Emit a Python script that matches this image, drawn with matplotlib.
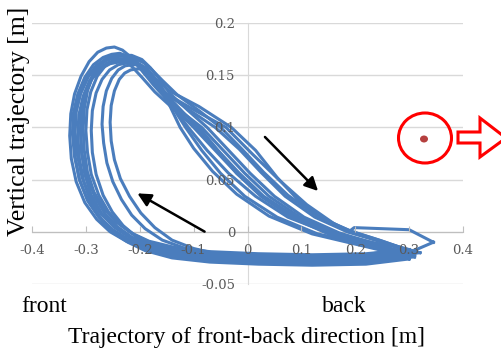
import numpy as np
import matplotlib.pyplot as plt
from matplotlib.patches import Ellipse, Polygon

plt.rcParams['axes.unicode_minus'] = False

# loops of the foot trajectory (x = front-back, y = vertical) [m]
loop_a_x = [0.31, 0.22, 0.12, 0.02, -0.07, -0.14, -0.19, -0.225, -0.255, -0.280, -0.302, -0.318, -0.327, -0.330, -0.328, -0.321, -0.309, -0.294, -0.278, -0.262, -0.247, -0.232, -0.218, -0.200, -0.175, -0.140, -0.100, -0.060, -0.020, 0.030, 0.090, 0.160, 0.240, 0.310]
loop_a_y = [-0.023, -0.028, -0.029, -0.028, -0.026, -0.022, -0.016, -0.009, 0.000, 0.012, 0.028, 0.048, 0.070, 0.092, 0.113, 0.132, 0.149, 0.163, 0.172, 0.176, 0.177, 0.174, 0.168, 0.157, 0.141, 0.121, 0.100, 0.078, 0.056, 0.033, 0.013, -0.001, -0.012, -0.023]
loop_b_x = [0.32, 0.22, 0.12, 0.02, -0.07, -0.14, -0.19, -0.222, -0.250, -0.275, -0.296, -0.312, -0.321, -0.325, -0.323, -0.315, -0.302, -0.286, -0.268, -0.252, -0.237, -0.222, -0.207, -0.188, -0.160, -0.112, -0.060, -0.015, 0.025, 0.070, 0.125, 0.185, 0.250, 0.320]
loop_b_y = [-0.020, -0.026, -0.027, -0.026, -0.024, -0.020, -0.014, -0.007, 0.002, 0.014, 0.030, 0.050, 0.072, 0.094, 0.114, 0.132, 0.148, 0.160, 0.167, 0.170, 0.171, 0.168, 0.161, 0.150, 0.136, 0.118, 0.100, 0.079, 0.057, 0.034, 0.014, 0.000, -0.010, -0.020]
loop_c_x = [0.30, 0.22, 0.12, 0.02, -0.07, -0.135, -0.185, -0.218, -0.246, -0.270, -0.291, -0.307, -0.316, -0.320, -0.318, -0.310, -0.297, -0.281, -0.263, -0.245, -0.228, -0.212, -0.196, -0.175, -0.145, -0.090, -0.030, 0.015, 0.055, 0.095, 0.140, 0.195, 0.250, 0.300]
loop_c_y = [-0.018, -0.024, -0.025, -0.024, -0.022, -0.018, -0.012, -0.005, 0.004, 0.016, 0.032, 0.052, 0.074, 0.095, 0.115, 0.133, 0.148, 0.159, 0.165, 0.168, 0.168, 0.165, 0.158, 0.148, 0.135, 0.120, 0.100, 0.078, 0.052, 0.030, 0.012, 0.000, -0.009, -0.018]
loop_d_x = [0.30, 0.22, 0.12, 0.02, -0.07, -0.14, -0.19, -0.222, -0.248, -0.270, -0.290, -0.304, -0.312, -0.315, -0.313, -0.305, -0.293, -0.277, -0.259, -0.240, -0.222, -0.205, -0.190, -0.172, -0.150, -0.120, -0.085, -0.045, -0.005, 0.040, 0.100, 0.170, 0.240, 0.300]
loop_d_y = [-0.026, -0.031, -0.032, -0.031, -0.029, -0.025, -0.018, -0.010, -0.001, 0.011, 0.028, 0.048, 0.070, 0.092, 0.112, 0.130, 0.145, 0.156, 0.162, 0.165, 0.165, 0.161, 0.153, 0.142, 0.128, 0.114, 0.100, 0.078, 0.056, 0.034, 0.013, -0.003, -0.014, -0.026]
loop_e_x = [0.31, 0.22, 0.12, 0.02, -0.07, -0.135, -0.182, -0.215, -0.242, -0.264, -0.283, -0.298, -0.307, -0.310, -0.308, -0.301, -0.289, -0.273, -0.255, -0.235, -0.215, -0.198, -0.183, -0.166, -0.148, -0.130, -0.110, -0.075, -0.035, 0.015, 0.075, 0.150, 0.230, 0.310]
loop_e_y = [-0.022, -0.027, -0.028, -0.027, -0.025, -0.020, -0.013, -0.005, 0.005, 0.017, 0.033, 0.053, 0.074, 0.095, 0.115, 0.132, 0.146, 0.156, 0.161, 0.163, 0.163, 0.159, 0.151, 0.140, 0.127, 0.114, 0.100, 0.078, 0.056, 0.034, 0.014, -0.001, -0.012, -0.022]
loop_f_x = [0.29, 0.22, 0.12, 0.02, -0.07, -0.13, -0.177, -0.210, -0.236, -0.258, -0.276, -0.290, -0.297, -0.300, -0.298, -0.291, -0.279, -0.264, -0.247, -0.228, -0.210, -0.193, -0.177, -0.158, -0.130, -0.090, -0.050, -0.010, 0.030, 0.075, 0.130, 0.190, 0.245, 0.290]
loop_f_y = [-0.016, -0.022, -0.024, -0.023, -0.021, -0.017, -0.011, -0.003, 0.007, 0.019, 0.035, 0.055, 0.076, 0.097, 0.117, 0.134, 0.149, 0.159, 0.164, 0.166, 0.166, 0.162, 0.155, 0.145, 0.131, 0.116, 0.100, 0.079, 0.057, 0.035, 0.015, 0.001, -0.008, -0.016]
loop_g_x = [0.30, 0.22, 0.12, 0.02, -0.07, -0.13, -0.175, -0.206, -0.231, -0.251, -0.268, -0.281, -0.288, -0.290, -0.288, -0.281, -0.270, -0.256, -0.240, -0.222, -0.205, -0.189, -0.175, -0.162, -0.150, -0.138, -0.125, -0.100, -0.065, -0.020, 0.040, 0.120, 0.210, 0.300]
loop_g_y = [-0.024, -0.029, -0.030, -0.029, -0.027, -0.022, -0.014, -0.005, 0.006, 0.019, 0.035, 0.055, 0.076, 0.097, 0.116, 0.133, 0.146, 0.155, 0.160, 0.162, 0.162, 0.157, 0.149, 0.139, 0.127, 0.114, 0.100, 0.080, 0.058, 0.036, 0.015, -0.002, -0.013, -0.024]
loop_h_x = [0.30, 0.22, 0.12, 0.02, -0.06, -0.115, -0.158, -0.190, -0.215, -0.234, -0.250, -0.261, -0.267, -0.270, -0.268, -0.262, -0.252, -0.240, -0.227, -0.213, -0.200, -0.186, -0.173, -0.160, -0.146, -0.131, -0.115, -0.085, -0.050, -0.005, 0.055, 0.130, 0.210, 0.300]
loop_h_y = [-0.020, -0.025, -0.026, -0.025, -0.022, -0.016, -0.008, 0.003, 0.016, 0.031, 0.048, 0.066, 0.085, 0.103, 0.120, 0.135, 0.147, 0.155, 0.159, 0.160, 0.160, 0.156, 0.148, 0.138, 0.126, 0.113, 0.100, 0.078, 0.056, 0.034, 0.014, -0.002, -0.011, -0.020]
loop_i_x = [0.31, 0.22, 0.12, 0.02, -0.05, -0.10, -0.140, -0.172, -0.198, -0.219, -0.236, -0.247, -0.253, -0.255, -0.253, -0.247, -0.238, -0.228, -0.217, -0.206, -0.195, -0.183, -0.170, -0.155, -0.137, -0.115, -0.090, -0.055, -0.020, 0.025, 0.085, 0.150, 0.230, 0.310]
loop_i_y = [-0.022, -0.027, -0.027, -0.026, -0.022, -0.016, -0.008, 0.004, 0.018, 0.034, 0.051, 0.069, 0.087, 0.105, 0.121, 0.135, 0.146, 0.152, 0.155, 0.156, 0.156, 0.152, 0.145, 0.135, 0.124, 0.112, 0.100, 0.078, 0.056, 0.034, 0.013, -0.002, -0.013, -0.022]
loop_j_x = [0.345, 0.30, 0.22, 0.12, 0.02, -0.07, -0.138, -0.186, -0.220, -0.248, -0.271, -0.290, -0.302, -0.308, -0.310, -0.307, -0.299, -0.287, -0.272, -0.256, -0.240, -0.226, -0.212, -0.197, -0.178, -0.150, -0.100, -0.040, 0.010, 0.060, 0.110, 0.160, 0.188, 0.198, 0.300, 0.345]
loop_j_y = [-0.010, -0.020, -0.025, -0.027, -0.026, -0.024, -0.020, -0.013, -0.005, 0.005, 0.018, 0.035, 0.055, 0.076, 0.097, 0.117, 0.135, 0.150, 0.161, 0.167, 0.169, 0.169, 0.165, 0.157, 0.146, 0.132, 0.117, 0.100, 0.074, 0.049, 0.026, 0.008, 0.000, 0.004, 0.002, -0.010]
loop_k_x = [0.31, 0.22, 0.12, 0.02, -0.07, -0.14, -0.19, -0.224, -0.252, -0.276, -0.297, -0.312, -0.320, -0.322, -0.319, -0.310, -0.296, -0.280, -0.262, -0.240, -0.215, -0.196, -0.180, -0.163, -0.143, -0.112, -0.075, -0.035, 0.005, 0.050, 0.105, 0.170, 0.240, 0.310]
loop_k_y = [-0.024, -0.029, -0.030, -0.029, -0.027, -0.023, -0.016, -0.008, 0.002, 0.014, 0.030, 0.050, 0.072, 0.094, 0.114, 0.132, 0.148, 0.159, 0.166, 0.169, 0.169, 0.165, 0.157, 0.146, 0.132, 0.117, 0.100, 0.078, 0.056, 0.034, 0.014, -0.001, -0.012, -0.024]
loop_m_x = [0.30, 0.22, 0.12, 0.02, -0.07, -0.135, -0.183, -0.216, -0.243, -0.266, -0.285, -0.297, -0.303, -0.305, -0.303, -0.297, -0.288, -0.276, -0.262, -0.250, -0.240, -0.228, -0.214, -0.196, -0.172, -0.138, -0.095, -0.055, -0.015, 0.030, 0.090, 0.160, 0.230, 0.300]
loop_m_y = [-0.017, -0.021, -0.022, -0.021, -0.019, -0.015, -0.009, -0.001, 0.009, 0.022, 0.038, 0.057, 0.078, 0.099, 0.118, 0.135, 0.149, 0.159, 0.164, 0.166, 0.166, 0.164, 0.158, 0.148, 0.134, 0.118, 0.100, 0.078, 0.056, 0.034, 0.014, -0.001, -0.010, -0.017]

loops = [(loop_a_x, loop_a_y), (loop_b_x, loop_b_y), (loop_c_x, loop_c_y), (loop_d_x, loop_d_y),
         (loop_e_x, loop_e_y), (loop_f_x, loop_f_y), (loop_g_x, loop_g_y), (loop_h_x, loop_h_y),
         (loop_i_x, loop_i_y), (loop_j_x, loop_j_y), (loop_k_x, loop_k_y), (loop_m_x, loop_m_y)]

xticks = [-0.4, -0.3, -0.2, -0.1, 0.0, 0.1, 0.2, 0.3, 0.4]
xtick_labels = ['-0.4', '-0.3', '-0.2', '-0.1', '0', '0.1', '0.2', '0.3', '0.4']
yticks = [-0.05, 0.0, 0.05, 0.1, 0.15, 0.2]
ytick_labels = ['-0.05', '0', '0.05', '0.1', '0.15', '0.2']

blue = '#4a7dbd'
serif = 'Liberation Serif'

fig = plt.figure(figsize=(5.01, 3.54), dpi=100)
ax = fig.add_axes([32/501, 70/354, 431/501, 261/354])

for yv in yticks:
    ax.axhline(yv, color='#d9d9d9', lw=1, zorder=0)

for lx, ly in loops:
    ax.plot(lx, ly, color=blue, lw=2.2, solid_joinstyle='round', zorder=2)

ax.set_xlim(-0.4, 0.4)
ax.set_ylim(-0.05, 0.2)
ax.set_axisbelow(False)
for s in ['top', 'right']:
    ax.spines[s].set_visible(False)
ax.spines['left'].set_position(('data', 0))
ax.spines['bottom'].set_position(('data', 0))
ax.spines['left'].set_color('#d9d9d9')
ax.spines['bottom'].set_color('#bfbfbf')
ax.spines['left'].set_zorder(1)
ax.spines['bottom'].set_zorder(1)

ax.set_xticks(xticks)
ax.set_xticklabels(xtick_labels)
ax.set_yticks(yticks)
ax.set_yticklabels(ytick_labels)
ax.tick_params(axis='x', direction='in', length=4, color='#bfbfbf', pad=9,
               labelsize=9.5, labelcolor='#595959', labelfontfamily='DejaVu Serif')
ax.tick_params(axis='y', length=0, pad=9,
               labelsize=9.5, labelcolor='#595959', labelfontfamily='DejaVu Serif')

fig.text(19/501, 1 - 121/354, 'Vertical trajectory [m]', rotation=90, ha='center', va='center',
         family=serif, fontsize=18.5)
fig.text(246/501, 1 - 337/354, 'Trajectory of front-back direction [m]', ha='center', va='center',
         family=serif, fontsize=17)
fig.text(44/501, 1 - 306/354, 'front', ha='center', va='center', family=serif, fontsize=17)
fig.text(344/501, 1 - 306/354, 'back', ha='center', va='center', family=serif, fontsize=17)

# overlay in pixel coordinates for the annotation marks
ov = fig.add_axes([0, 0, 1, 1])
ov.set_xlim(0, 501)
ov.set_ylim(354, 0)
ov.axis('off')
ov.patch.set_alpha(0)

ov.add_patch(Ellipse((425, 138), 53, 50, fill=False, ec='red', lw=2.2))
ov.add_patch(Ellipse((424, 139), 8, 7, fc='#b5403f', ec='none'))
ov.add_patch(Polygon([(458, 132), (480, 132), (480, 118), (506, 138), (480, 157), (480, 143), (458, 143)],
                     closed=True, fc='white', ec='red', lw=2.2))

ov.annotate('', xy=(320, 193), xytext=(263, 135),
            arrowprops=dict(arrowstyle='-|>', color='black', lw=1.8, mutation_scale=20))
ov.annotate('', xy=(135, 192), xytext=(207, 233),
            arrowprops=dict(arrowstyle='-|>', color='black', lw=1.8, mutation_scale=20))

fig.savefig('out.png', dpi=100)
